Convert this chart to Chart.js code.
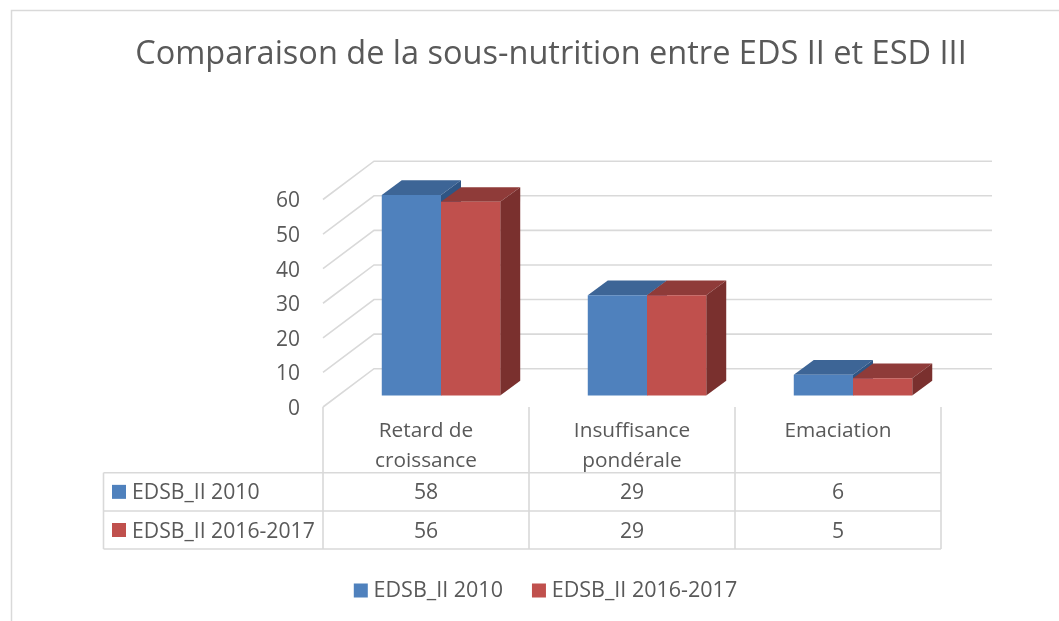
<!DOCTYPE html>
<html><head><meta charset="utf-8">
<style>html,body{margin:0;padding:0;background:#fff}canvas{display:block}</style>
<script src="https://cdn.jsdelivr.net/npm/chart.js@4"></script>
</head><body>
<canvas id="c" width="1059" height="621"></canvas>
<script>
const titleText = "Comparaison de la sous-nutrition entre EDS II et ESD III";
const categories = [["Retard de","croissance"],["Insuffisance","pondérale"],["Emaciation"]];
const seriesNames = ["EDSB_II 2010","EDSB_II 2016-2017"];
const values2010 = [58,29,6];
const values2016 = [56,29,5];
const colors = ["#4f81bd","#c0504d"];
const topColors = ["#3d6596","#8f3b39"];
const sideColors = ["#2f5584","#7a302e"];
const FONT = "'Open Sans', sans-serif";
const TEXT = "#595959", LINE = "#d9d9d9";
const wallDx = 51, wallDy = -38.3, barDx = 15, barDy = -11.5, depthDx = 20, depthDy = -14.7;

const scene3d = {
  id: "scene3d",
  beforeDraw(chart) {
    const c = chart.ctx, y = chart.scales.y, x = chart.scales.x, a = chart.chartArea;
    c.save();
    c.strokeStyle = LINE; c.lineWidth = 1.5;
    c.beginPath(); c.moveTo(11.5, 621); c.lineTo(11.5, 10.5); c.lineTo(1059, 10.5); c.stroke();
    c.lineWidth = 1.6; c.strokeStyle = LINE;
    y.ticks.forEach(t => {
      const py = y.getPixelForValue(t.value);
      c.beginPath(); c.moveTo(a.left, py); c.lineTo(a.left + wallDx, py + wallDy); c.lineTo(a.right + wallDx, py + wallDy); c.stroke();
    });
    // data table
    const tickEdges = [a.left, x.getPixelForValue(0) + (x.getPixelForValue(1)-x.getPixelForValue(0))/2,
                       x.getPixelForValue(1) + (x.getPixelForValue(2)-x.getPixelForValue(1))/2, a.right];
    const rows = [472.7, 511, 549], tableLeft = 103.5;
    c.beginPath();
    tickEdges.forEach(e => { c.moveTo(e, a.bottom); c.lineTo(e, rows[2]); });
    c.moveTo(tableLeft, rows[0]); c.lineTo(tableLeft, rows[2]);
    rows.forEach(r => { c.moveTo(tableLeft, r); c.lineTo(a.right, r); });
    c.stroke();
    const sets = [values2010, values2016];
    c.font = "21.2px " + FONT; c.textBaseline = "middle";
    sets.forEach((vals, i) => {
      const cy = (rows[i] + rows[i+1]) / 2;
      c.fillStyle = colors[i]; c.fillRect(112, cy - 7, 14, 14);
      c.fillStyle = TEXT; c.textAlign = "left";
      c.fillText(seriesNames[i], 132, cy + 1.5);
      c.textAlign = "center";
      vals.forEach((v, k) => c.fillText(String(v), x.getPixelForValue(k), cy + 1.5));
    });
    c.restore();
  },
  beforeDatasetsDraw(chart) {
    const c = chart.ctx;
    c.save();
    c.translate(barDx, barDy);
    for (let k = 0; k < categories.length; k++) {
      [0, 1].forEach(i => {
        const b = chart.getDatasetMeta(i).data[k];
        const l = b.x - b.width/2, r = b.x + b.width/2, t = b.y, bt = b.base;
        c.fillStyle = topColors[i];
        c.beginPath(); c.moveTo(l, t); c.lineTo(l + depthDx, t + depthDy); c.lineTo(r + depthDx, t + depthDy); c.lineTo(r, t); c.closePath(); c.fill();
        c.fillStyle = sideColors[i];
        c.beginPath(); c.moveTo(r, t); c.lineTo(r + depthDx, t + depthDy); c.lineTo(r + depthDx, bt + depthDy); c.lineTo(r, bt); c.closePath(); c.fill();
      });
    }
  },
  afterDatasetsDraw(chart) { chart.ctx.restore(); },
  afterLayout(chart) {
    const t = chart.titleBlock, l = chart.legend;
    t.left += 80.5; t.right += 80.5;
    const shift = 77.5;
    l.left += shift; l.right += shift;
    const h = l.bottom - l.top;
    l.top = 590.5 - 10.75 - l.options.labels.padding; l.bottom = l.top + h;
  }
};

new Chart(document.getElementById("c"), {
  type: "bar",
  data: { labels: categories, datasets: [
    { label: seriesNames[0], data: values2010, backgroundColor: colors[0], clip: false },
    { label: seriesNames[1], data: values2016, backgroundColor: colors[1], clip: false }
  ]},
  plugins: [scene3d],
  options: {
    responsive: false, animation: false,
    layout: { padding: { left: 0, right: 118, top: 0, bottom: 0 } },
    datasets: { bar: { categoryPercentage: 0.575, barPercentage: 1 } },
    plugins: {
      title: { display: true, text: titleText, color: TEXT,
        font: { family: FONT, size: 32.5, weight: "normal", lineHeight: 1.2 },
        padding: { top: 35, bottom: 125.5 } },
      legend: { position: "bottom",
        labels: { color: TEXT, font: { family: FONT, size: 21.5 }, usePointStyle: true, pointStyle: "rect",
          boxWidth: 4, boxHeight: 14, padding: 34 } },
      tooltip: { enabled: false }
    },
    scales: {
      x: { grid: { display: false, drawTicks: false }, border: { display: false },
        ticks: { color: TEXT, font: { family: FONT, size: 20.8, lineHeight: 1.45 }, padding: 9, maxRotation: 0, autoSkip: false },
        afterFit(s) { s.height = 148.5; } },
      y: { min: 0, max: 60, grid: { display: false, drawTicks: false }, border: { display: false },
        ticks: { stepSize: 10, color: TEXT, font: { family: FONT, size: 21 }, padding: 23, labelOffset: 2 },
        afterFit(s) { s.width = 323; } }
    }
  }
});
</script>
</body></html>
